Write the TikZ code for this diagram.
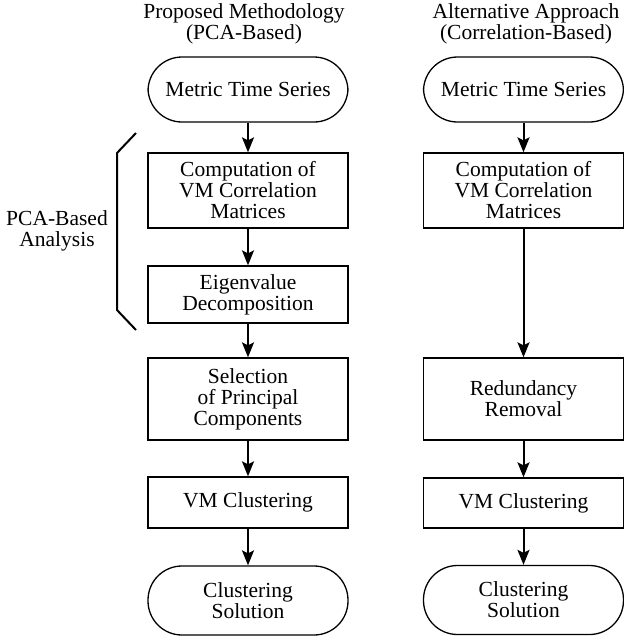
\documentclass[tikz,border=0pt]{standalone}
\usepackage{fontspec}
\setmainfont{Liberation Serif}
\usepackage{tikz}
\usetikzlibrary{positioning,arrows.meta}

\begin{document}
\begin{tikzpicture}[x=0.5pt,y=-0.5pt,
		font=\fontsize{10.75}{10.5}\selectfont,
		procbox/.style={draw,line width=0.65pt,minimum width=100pt,align=center,inner sep=0pt},
		termbox/.style={procbox,rounded corners=17pt},
		flow/.style={line width=1pt,-{Stealth[length=7.5pt,width=6pt,inset=1.5pt]}}]
		
		\useasboundingbox (0,0) rectangle (624,639);
		
		% column titles
		\node[align=center] (ttlA) at (244,24) {Proposed Methodology\\(PCA-Based)};
		\node[align=center] (ttlB) at (526,24) {Alternative Approach\\(Correlation-Based)};
		
		% PCA-based column
		\node[termbox,minimum height=32.5pt] (tsA) at (248,89.5) {Metric Time Series};
		\node[procbox,minimum height=37.5pt] (corA) at (248,190.5) {Computation of\\VM Correlation\\Matrices};
		\node[procbox,minimum height=28.5pt] (eig) at (248,294.5) {Eigenvalue\\Decomposition};
		\node[procbox,minimum height=41pt] (pcs) at (248,399) {Selection\\of Principal\\Components};
		\node[procbox,minimum height=25.5pt] (clA) at (248,502.5) {VM Clustering};
		\node[termbox,minimum height=34.5pt] (solA) at (248,600.5) {Clustering\\Solution};
		
		% correlation-based column
		\node[termbox,minimum height=32.5pt] (tsB) at (523.5,89.5) {Metric Time Series};
		\node[procbox,minimum height=37.5pt] (corB) at (523.5,190.5) {Computation of\\VM Correlation\\Matrices};
		\node[procbox,minimum height=41pt] (red) at (523.5,399) {Redundancy\\Removal};
		\node[procbox,minimum height=25pt] (clB) at (523.5,503) {VM Clustering};
		\node[termbox,minimum height=34.5pt] (solB) at (523.5,600) {Clustering\\Solution};
		
		\foreach \a/\b in {tsA/corA, corA/eig, eig/pcs, pcs/clA, clA/solA, tsB/corB, corB/red, red/clB, clB/solB}
		{
			\draw[flow] (\a) -- (\b);
		}
		
		% bracket round the PCA steps
		\draw[line width=1pt] (136,133) -- (117,153) -- (117,310) -- (136,330);
		\node[align=center] (pcalab) at (57,231) {PCA-Based\\Analysis};
		
	\end{tikzpicture}
\end{document}
